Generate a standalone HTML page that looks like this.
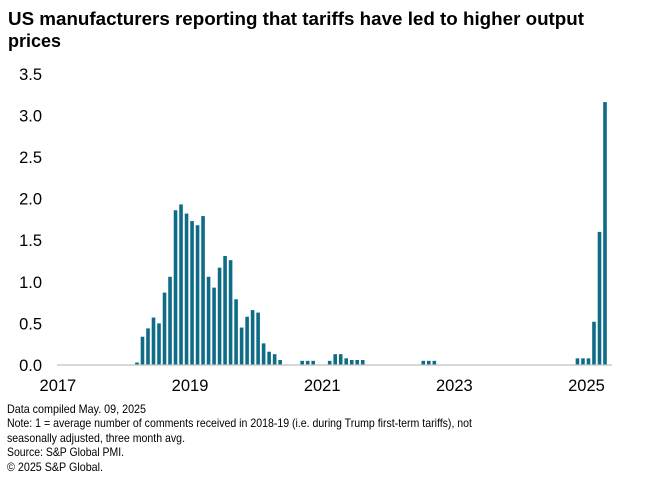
<!DOCTYPE html>
<html><head><meta charset="utf-8"><style>
body{margin:0;background:#fff;}
svg{display:block;font-family:"Liberation Sans",Arial,sans-serif;}
</style></head><body>
<svg width="649" height="487" viewBox="0 0 649 487">
<text x="8" y="25" font-size="18" font-weight="bold" fill="#000" textLength="576" lengthAdjust="spacingAndGlyphs">US manufacturers reporting that tariffs have led to higher output</text>
<text x="8" y="47" font-size="18" font-weight="bold" fill="#000" textLength="53" lengthAdjust="spacingAndGlyphs">prices</text>
<g id="yaxis"></g>
<g id="xaxis"></g>
<g id="bars"></g>
<line x1="57" y1="365" x2="612" y2="365" stroke="#bfbfbf" stroke-width="1.2"/>
<g font-size="12" fill="#000">
<text x="7" y="413" textLength="139" lengthAdjust="spacingAndGlyphs">Data compiled May. 09, 2025</text>
<text x="7" y="427" textLength="465" lengthAdjust="spacingAndGlyphs">Note: 1 = average number of comments received in 2018-19 (i.e. during Trump first-term tariffs), not</text>
<text x="7" y="442" textLength="178" lengthAdjust="spacingAndGlyphs">seasonally adjusted, three month avg.</text>
<text x="7" y="456" textLength="117" lengthAdjust="spacingAndGlyphs">Source: S&amp;P Global PMI.</text>
<text x="7" y="471" textLength="96" lengthAdjust="spacingAndGlyphs">© 2025 S&amp;P Global.</text>
</g>
</svg>
<script>
// months since Jan 2017, starting Mar 2018 (index 14)
const startMonth = 14;
const values = [
0.03,0.34,0.44,0.57,0.50,0.87,1.06,1.86,1.93,1.82,1.73,1.68,1.79,1.06,0.93,1.17,1.31,1.26,0.79,0.45,0.58,0.66,0.63,0.26,0.16,0.13,0.06,
0,0,0,0.05,0.05,0.05,0,0,0.05,0.13,0.13,0.08,0.06,0.06,0.06,
0,0,0,0,0,0,0,0,0,0,0.05,0.05,0.05,
0,0,0,0,0,0,0,0,0,0,0,0,0,0,0,0,0,0,0,0,0,0,0,0,0,
0.08,0.08,0.08,0.52,1.6,3.16];
const yTicks = [0,0.5,1,1.5,2,2.5,3,3.5];
const yTickLabels = ["0.0","0.5","1.0","1.5","2.0","2.5","3.0","3.5"];
const xTickYears = [2017,2019,2021,2023,2025];

const NS="http://www.w3.org/2000/svg";
function y(v){return 365 - v*83.2;}
function x(m){return 59.9 + m*5.506;}
const ya=document.getElementById('yaxis');
yTicks.forEach((t,i)=>{
  const tx=document.createElementNS(NS,'text');
  tx.setAttribute('x',42);tx.setAttribute('y',y(t)+6);
  tx.setAttribute('text-anchor','end');tx.setAttribute('font-size','16.5');
  tx.textContent=yTickLabels[i];
  
  
  ya.appendChild(tx);
});
const xa=document.getElementById('xaxis');
xTickYears.forEach(yr=>{
  const tx=document.createElementNS(NS,'text');
  tx.setAttribute('x',x((yr-2017)*12)-2);tx.setAttribute('y',391);
  tx.setAttribute('text-anchor','middle');tx.setAttribute('font-size','16.5');
  tx.textContent=yr;
  
  
  xa.appendChild(tx);
});
const bg=document.getElementById('bars');
values.forEach((v,i)=>{
  if(v<=0)return;
  const m=startMonth+i;
  const r=document.createElementNS(NS,'rect');
  r.setAttribute('x',x(m)-1.8);r.setAttribute('width',3.6);
  r.setAttribute('y',y(v));r.setAttribute('height',365-y(v));
  r.setAttribute('fill','#0f6c87');
  
  
  bg.appendChild(r);
});
</script>
</body></html>
